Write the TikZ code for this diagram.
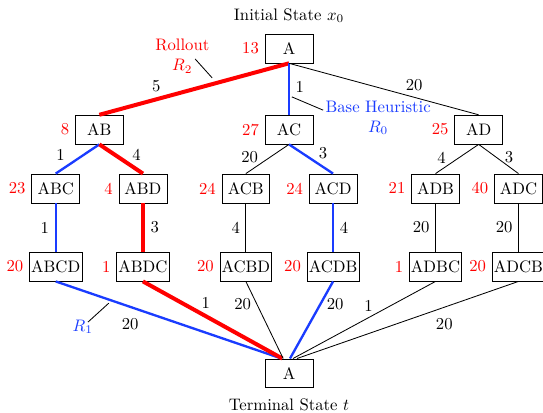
\documentclass[tikz,border=0pt]{standalone}
\usetikzlibrary{positioning}
\definecolor{rollred}{HTML}{FF0000}
\definecolor{heurblue}{HTML}{1A3CFF}
\tikzset{state/.style={draw,minimum width=1.01cm,minimum height=.61cm,inner sep=1pt},
  cost/.style={text=rollred},
  link/.style={draw=black,line width=.5pt},
  heurlink/.style={draw=heurblue,line width=1.4pt},
  rolllink/.style={draw=rollred,line width=2.4pt},
  pinline/.style={draw=black,line width=.5pt}}
\begin{document}
\begin{tikzpicture}
\useasboundingbox (-6.095,1.023) rectangle (5.357,-7.687);
\node[state,label={[cost]left:13}] (s0) at (0,0) {A};
\node (init) [above=3pt of s0] {Initial State $x_0$};
\node[state,label={[cost]left:8}] (ab) at (-4,-1.71) {AB};
\node[state,label={[cost]left:27}] (ac) at (0,-1.71) {AC};
\node[state,label={[cost]left:25}] (ad) at (4,-1.71) {AD};
\node[state,label={[cost]left:23}] (abc) at (-4.92,-2.95) {ABC};
\node[state,label={[cost]left:4}] (abd) at (-3.08,-2.95) {ABD};
\node[state,label={[cost]left:24}] (acb) at (-.91,-2.95) {ACB};
\node[state,label={[cost]left:24}] (acd) at (.93,-2.95) {ACD};
\node[state,label={[cost]left:21}] (adb) at (3.09,-2.95) {ADB};
\node[state,label={[cost]left:40}] (adc) at (4.84,-2.95) {ADC};
\node[state,label={[cost]left:20}] (abcd) at (-4.92,-4.6) {ABCD};
\node[state,label={[cost]left:1}] (abdc) at (-3.08,-4.6) {ABDC};
\node[state,label={[cost]left:20}] (acbd) at (-.91,-4.6) {ACBD};
\node[state,label={[cost]left:20}] (acdb) at (.93,-4.6) {ACDB};
\node[state,label={[cost]left:1}] (adbc) at (3.09,-4.6) {ADBC};
\node[state,label={[cost]left:20}] (adcb) at (4.84,-4.6) {ADCB};
\node[state] (t) at (0,-6.85) {A};
\node (term) [below=3pt of t] {Terminal State $t$};
\draw[rolllink] (s0.south)--node[pos=.7,above] {5}(ab.north);
\draw[heurlink] (s0.south)--node[pos=.46,right] {1}(ac.north);
\draw[link] (s0.south)--node[pos=.66,above] {20}(ad.north);
\draw[heurlink] (ab.south)--node[pos=.37,left=7pt] {1}(abc.north);
\draw[rolllink] (ab.south)--node[pos=.37,right=5.6pt] {4}(abd.north);
\draw[link] (ac.south)--node[pos=.43,left=3.9pt] {20}(acb.north);
\draw[heurlink] (ac.south)--node[pos=.3,right=6pt] {3}(acd.north);
\draw[link] (ad.south)--node[pos=.47,left=4pt] {4}(adb.north);
\draw[link] (ad.south)--node[pos=.43,right=1.8pt] {3}(adc.north);
\draw[heurlink] (abc)--node[left] {1}(abcd);
\draw[rolllink] (abd)--node[right] {3}(abdc);
\draw[link] (acb)--node[left] {4}(acbd);
\draw[heurlink] (acd)--node[right] {4}(acdb);
\draw[link] (adb)--node[left] {20}(adbc);
\draw[link] (adc)--node[left] {20}(adcb);
\draw[heurlink] (abcd.south)--node[pos=.33,below=3pt] {20}([xshift=-4.5pt]t.north);
\draw[rolllink] (abdc.south)--node[pos=.45,above] {1}([xshift=-4pt]t.north);
\draw[link] (acbd.south)--node[pos=.3,left] {20}([xshift=-3.5pt]t.north);
\draw[heurlink] (acdb.south)--node[pos=.3,right] {20}([xshift=.6pt]t.north);
\draw[link] (adbc.south)--node[pos=.47,above] {1}([xshift=2.4pt]t.north);
\draw[link] (adcb.south)--node[pos=.335,below=3pt] {20}([xshift=4.8pt]t.north);
\node[rollred,align=center] (roll) at (-2.25,-.16) {Rollout\\$R_2$};
\node[heurblue,align=center] (heur) at (1.88,-1.46) {Base Heuristic\\$R_0$};
\node[heurblue] (r1) at (-4.35,-5.87) {$R_1$};
\coordinate (rp1) at (-1.62,-.62);\coordinate (rp2) at (-1.98,-.22);
\coordinate (hp1) at (.06,-1.02);\coordinate (hp2) at (.72,-1.3);
\coordinate (r1p1) at (-3.8,-5.37);\coordinate (r1p2) at (-4.24,-5.77);
\draw[pinline] (rp1)--(rp2);
\draw[pinline] (hp1)--(hp2);
\draw[pinline] (r1p1)--(r1p2);
\end{tikzpicture}
\end{document}
